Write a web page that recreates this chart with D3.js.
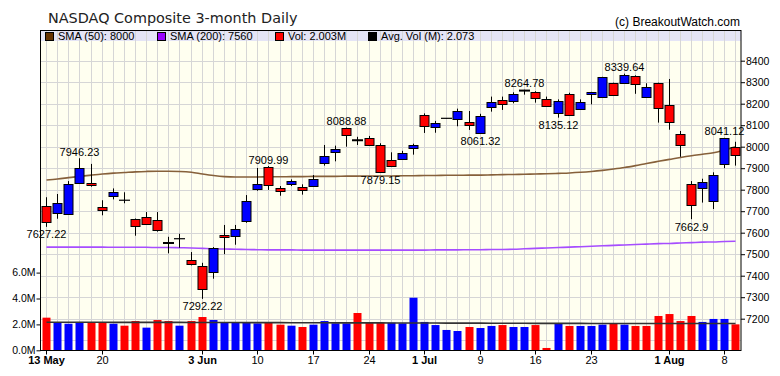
<!DOCTYPE html>
<html><head><meta charset="utf-8">
<script src="https://cdn.jsdelivr.net/npm/d3@7/dist/d3.min.js"></script>
<style>
body{margin:0;background:#fff}
text{font-family:"Liberation Sans",Arial,sans-serif}
</style>
</head><body>
<svg id="chart" width="780" height="376"></svg>
<script>
// ---- data ----
const openP  = [7724,7690,7686,7833,7831,7718,7769,7751,7664,7674,7658,7554,7571,7472,7444,7416,7589,7583,7653,7802,
                7904,7808,7826,7811,7819,7923,7974,8088.5,8032,8040,8006,7937,7941,7993,8147,8090,8132,8127,8115,8064,
                8185,8219,8211,8263,8253,8222,8157,8245,8174,8244,8230,8295,8295,8329,8233,8295,8193,8058,7825,7806,
                7749,7921,7997];
const highP  = [7765,7780,7840,7946.23,7920,7751,7806,7788,7666,7696,7696,7581,7595,7510,7460,7533,7636,7636,7775,7901,
                7909.99,7817,7848,7825,7868,8008,8005,8088.88,8046,8050,8016,7974,7981,8014,8155,8120,8133,8177,8166,8153,
                8233,8233,8253,8264.78,8258,8233,8220,8251,8220,8255,8325,8298,8339.64,8332,8295,8298,8315,8073,7840,7851,
                7881,8041.12,8023];
const lowP   = [7627.22,7665,7684,7828,7814,7681,7755,7737,7586,7638,7605,7504,7530,7448,7292.22,7386,7500,7544,7646,7795,
                7799,7772,7817,7777,7817,7912,7932,8000,8008,8006,7879.15,7910,7940,7963,8064,8065,8131,8095,8078,8061.32,
                8163,8171,8202,8242,8205,8188,8135.12,8145,8172,8197,8228,8236,8293,8246,8230,8112,8079,7953,7662.9,7740,
                7710,7900,7912];
const closeP = [7648,7737,7825,7900,7820,7704,7789,7751,7630,7639,7611,7552,7572,7453,7337,7529,7579,7616,7746,7826,
                7823,7794,7840,7797,7848,7955,7988,8054,8030,8006,7884,7912,7969,8008,8095,8110,8132,8166,8101,8143,
                8206,8197,8245,8261,8226,8189,8213,8147,8206,8253,8324,8239,8332,8293,8276,8179,8113,8006,7727,7834,
                7867,8039,7960];
const volumeM = [2.52,2.16,2.05,2.19,2.16,2.16,2.05,1.90,2.26,1.75,2.34,2.26,1.90,2.26,2.57,2.34,2.13,2.13,2.13,2.08,
                 2.13,1.98,1.90,1.80,1.98,2.26,2.08,2.08,2.88,2.13,2.13,2.13,2.08,4.06,2.19,1.95,1.57,1.49,1.80,1.72,
                 1.88,1.95,1.80,1.80,1.95,0.18,2.05,1.88,1.88,1.88,1.98,2.03,1.98,1.88,1.88,2.65,2.80,2.26,2.65,2.19,
                 2.42,2.42,2.003];
const sma50  = [7845,7850,7856,7862,7868,7873,7877,7880,7883,7885,7886,7886,7885,7881,7873,7866,7861,7859,7859,7859,
                7860,7860,7861,7861,7862,7862,7862,7863,7863,7864,7864,7864,7865,7865,7866,7866,7867,7867,7868,7868,
                7869,7870,7871,7872,7873,7874,7876,7878,7881,7885,7890,7896,7903,7912,7922,7932,7941,7950,7958,7965,
                7972,7985,8000];
const sma200 = [7533,7533,7533,7533,7533,7533,7532,7532,7532,7532,7531,7531,7530,7529,7527,7525,7524,7523,7522,7521,
                7520,7520,7520,7519,7519,7519,7519,7519,7519,7519,7519,7519,7519,7519,7519,7520,7520,7520,7521,7521,
                7522,7522,7523,7525,7527,7529,7531,7533,7535,7537,7539,7541,7543,7545,7547,7549,7550,7552,7554,7556,
                7557,7559,7560];
const avgVolM = [2.17,2.17,2.17,2.17,2.17,2.17,2.16,2.16,2.16,2.16,2.16,2.16,2.16,2.15,2.15,2.15,2.15,2.15,2.14,2.14,
                 2.14,2.14,2.13,2.13,2.13,2.13,2.12,2.12,2.12,2.12,2.12,2.11,2.11,2.11,2.11,2.11,2.10,2.10,2.10,2.10,
                 2.09,2.09,2.09,2.09,2.08,2.08,2.08,2.08,2.08,2.07,2.07,2.07,2.07,2.07,2.07,2.07,2.07,2.07,2.07,2.07,
                 2.07,2.07,2.073];
const dateTickIdx    = [0,5,14,19,24,29,34,39,44,49,56,61];
const dateTickLabels = ["13 May","20","3 Jun","10","17","24","1 Jul","9","16","23","1 Aug","8"];
const dateTickBold   = [true,false,true,false,false,false,true,false,false,false,true,false];
const priceTicks = [7200,7300,7400,7500,7600,7700,7800,7900,8000,8100,8200,8300,8400];
const priceGrid  = [7100,7200,7300,7400,7500,7600,7700,7800,7900,8000,8100,8200,8300,8400];
const volTicks   = [0,2,4,6];
const annotations = [
  {i:0,  text:"7627.22", at:"low"},
  {i:3,  text:"7946.23", at:"high"},
  {i:14, text:"7292.22", at:"low"},
  {i:20, text:"7909.99", at:"high"},
  {i:27, text:"8088.88", at:"high"},
  {i:30, text:"7879.15", at:"low"},
  {i:39, text:"8061.32", at:"low"},
  {i:43, text:"8264.78", at:"high"},
  {i:46, text:"8135.12", at:"low"},
  {i:52, text:"8339.64", at:"high"},
  {i:58, text:"7662.9",  at:"low"},
  {i:61, text:"8041.12", at:"high"}
];
const legendItems = [
  {label:"SMA (50): 8000",      color:"#663300", x:45},
  {label:"SMA (200): 7560",     color:"#9900ff", x:157},
  {label:"Vol: 2.003M",         color:"#ff0000", x:275},
  {label:"Avg. Vol (M): 2.073", color:"#000000", x:368}
];

// ---- layout ----
const L = 40.5, R = 741, T = 30.5, B = 350.5;
const n = closeP.length;
const svg = d3.select("#chart");
const x = d3.scaleBand().domain(d3.range(n)).range([L, R]).padding(0);
const cx = i => Math.round(x(i) + x.bandwidth()/2);
const y = d3.scaleLinear().domain([7200, 8400]).range([318.7, 60.7]);
const yv = d3.scaleLinear().domain([0, 6]).range([350.3, 272.6]);
const UP = "#0000ff", DOWN = "#ff0000";

// background
svg.append("rect").attr("x",L).attr("y",T).attr("width",R-L).attr("height",B-T).attr("fill","#fffff0");
svg.append("rect").attr("x",L).attr("y",T).attr("width",R-L).attr("height",10.5).attr("fill","#e4e4f6");

// grid
const g = svg.append("g");
g.selectAll("line.v").data(d3.range(n)).join("line")
  .attr("x1",i=>cx(i)+0.5).attr("x2",i=>cx(i)+0.5).attr("y1",T).attr("y2",B)
  .attr("stroke","#d6d6d6").attr("stroke-width",1);
g.selectAll("line.h").data(priceGrid).join("line")
  .attr("x1",L).attr("x2",R).attr("y1",d=>Math.round(y(d))+0.5).attr("y2",d=>Math.round(y(d))+0.5)
  .attr("stroke","#d6d6d6").attr("stroke-width",1);

// title
svg.append("text").attr("x",48).attr("y",23).text("NASDAQ Composite 3-month Daily")
  .style("font-family","'DejaVu Sans',sans-serif").style("font-size","14.4px").attr("fill","#222");
svg.append("text").attr("x",740).attr("y",26).attr("text-anchor","end").text("(c) BreakoutWatch.com")
  .style("font-size","12px").attr("fill","#000");

// legend
const lg = svg.append("g");
legendItems.forEach(d=>{
  lg.append("rect").attr("x",d.x+0.5).attr("y",32.5).attr("width",8).attr("height",8)
    .attr("fill",d.color).attr("stroke","#000").attr("stroke-width",1);
  lg.append("text").attr("x",d.x+13).attr("y",39.5).text(d.label).style("font-size","11px").attr("fill","#000");
});

// volume bars
const vcol = i => (i===0 ? (closeP[0]<openP[0]?DOWN:UP) : (closeP[i] >= closeP[i-1] ? UP : DOWN));
svg.append("g").selectAll("rect").data(d3.range(n)).join("rect")
  .attr("x",i=>cx(i)-3.5).attr("width",8)
  .attr("y",i=>yv(volumeM[i])).attr("height",i=>yv(0)-yv(volumeM[i]))
  .attr("fill",vcol);

// avg volume line
svg.append("path").datum(avgVolM)
  .attr("d", d3.line().x((d,i)=>cx(i)+0.5).y(d=>yv(d)))
  .attr("fill","none").attr("stroke","#333").attr("stroke-width",1.6);

// SMA lines
svg.append("path").datum(sma50)
  .attr("d", d3.line().curve(d3.curveMonotoneX).x((d,i)=>cx(i)+0.5).y(d=>y(d)))
  .attr("fill","none").attr("stroke","#86603a").attr("stroke-width",1.6);
svg.append("path").datum(sma200)
  .attr("d", d3.line().curve(d3.curveMonotoneX).x((d,i)=>cx(i)+0.5).y(d=>y(d)))
  .attr("fill","none").attr("stroke","#a64dff").attr("stroke-width",1.6);

// candles
const cg = svg.append("g");
d3.range(n).forEach(i=>{
  const o=openP[i], c=closeP[i], h=highP[i], l=lowP[i];
  const xc = cx(i)+0.5;
  cg.append("line").attr("x1",xc).attr("x2",xc).attr("y1",y(h)).attr("y2",y(l))
    .attr("stroke","#000").attr("stroke-width",1);
  const diff = Math.abs(c-o);
  if (diff <= 2.5) {
    cg.append("line").attr("x1",cx(i)-5).attr("x2",cx(i)+6).attr("y1",y(c)).attr("y2",y(c))
      .attr("stroke","#000").attr("stroke-width", diff>=2?2:1.2);
  } else {
    const top = Math.round(y(Math.max(o,c)))+0.5, bot = Math.round(y(Math.min(o,c)))+0.5;
    cg.append("rect").attr("x",cx(i)-4).attr("width",9)
      .attr("y",top).attr("height",Math.max(1,bot-top))
      .attr("fill", c>o?UP:DOWN).attr("stroke","#000").attr("stroke-width",1);
  }
});

// annotations
svg.append("g").selectAll("text").data(annotations).join("text")
  .attr("x",d=>cx(d.i)+0.5)
  .attr("y",d=>d.at==="high" ? y(highP[d.i])-2.5 : y(lowP[d.i])+11.5)
  .attr("text-anchor","middle").style("font-size","11px").attr("fill","#000")
  .text(d=>d.text);

// frame
svg.append("rect").attr("x",L).attr("y",T).attr("width",R-L).attr("height",B-T)
  .attr("fill","none").attr("stroke","#000").attr("stroke-width",1);

// axes
const ax = svg.append("g").attr("transform",`translate(${R},0)`)
  .call(d3.axisRight(y).tickValues(priceTicks).tickSize(4).tickPadding(1).tickFormat(d3.format("d")));
ax.select(".domain").remove();
ax.selectAll("text").style("font-size","10.5px").style("font-family","'Liberation Sans',Arial,sans-serif").attr("fill","#000");

const axl = svg.append("g").attr("transform",`translate(${L},0)`)
  .call(d3.axisLeft(yv).tickValues(volTicks).tickSize(4).tickPadding(1).tickFormat(d=>d.toFixed(1)+"M"));
axl.select(".domain").remove();
axl.selectAll("text").style("font-size","10.5px").style("font-family","'Liberation Sans',Arial,sans-serif").attr("fill","#000");

const axb = svg.append("g").attr("transform",`translate(0,${B})`)
  .call(d3.axisBottom(x).tickValues(dateTickIdx).tickSize(4).tickPadding(2)
        .tickFormat(i=>dateTickLabels[dateTickIdx.indexOf(i)]));
axb.select(".domain").remove();
axb.selectAll(".tick").attr("transform", i=>`translate(${cx(i)+0.5},0)`);
axb.selectAll("text").style("font-size","11px").style("font-family","'Liberation Sans',Arial,sans-serif")
  .style("font-weight", i=>dateTickBold[dateTickIdx.indexOf(i)]?"bold":"normal").attr("fill","#000");
</script>
</body></html>
